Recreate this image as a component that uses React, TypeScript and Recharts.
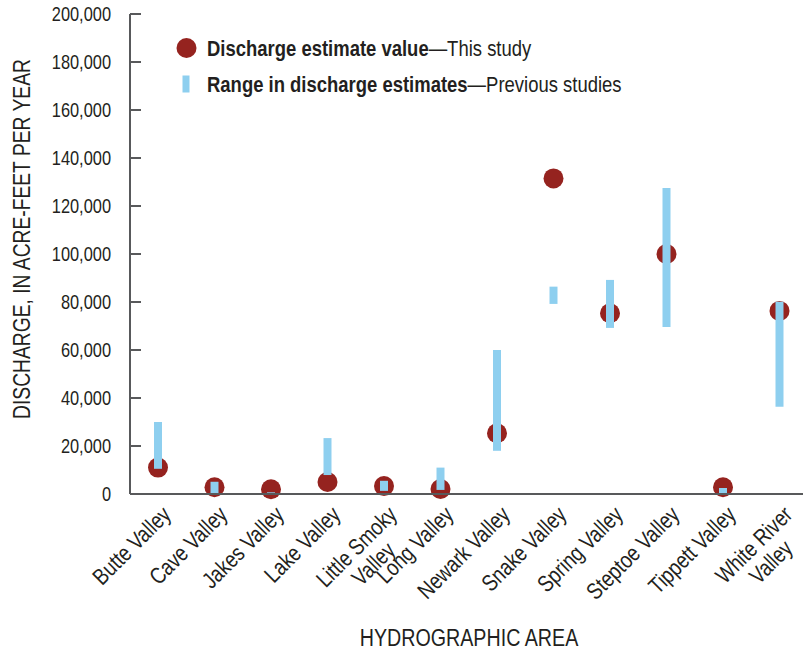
import React from "react";
import { ComposedChart, Bar, XAxis, YAxis, Legend } from "recharts";

// hydrographic areas (\n = second line of the tick label)
const areas = [
  "Butte Valley",
  "Cave Valley",
  "Jakes Valley",
  "Lake Valley",
  "Little Smoky\nValley",
  "Long Valley",
  "Newark Valley",
  "Snake Valley",
  "Spring Valley",
  "Steptoe Valley",
  "Tippett Valley",
  "White River\nValley",
];

// this study, acre-feet per year
const estimates = [11000, 2800, 2000, 5000, 3300, 2100, 25300, 131500, 75300, 100000, 2800, 76300];

// previous studies, low / high
const rangeLow = [10500, 400, 200, 7900, 1300, 1700, 18000, 79200, 69200, 69600, 200, 36400];
const rangeHigh = [30000, 5100, 700, 23300, 5500, 11000, 60000, 86400, 89200, 127500, 2500, 80100];

const yTicks = [0, 20000, 40000, 60000, 80000, 100000, 120000, 140000, 160000, 180000, 200000];
const boundaries = [1, 2, 3, 4, 5, 6, 7, 8, 9, 10, 11];

const data = areas.map((name, i) => ({
  name,
  estimate: estimates[i],
  range: [rangeLow[i], rangeHigh[i]],
}));

// no narrow font installed, so squeeze Liberation Sans sideways
const FONT = "'Liberation Sans', Arial, sans-serif";
const SX = 0.82;
const INK = "#231f20";
const AXIS = "#58595b";
const RED = "#95231f";
const BLUE = "#8ecfef";

const ctx = typeof document !== "undefined" ? document.createElement("canvas").getContext("2d") : null;
const measure = (s: string, size: number) => {
  if (!ctx) return s.length * size * 0.5;
  ctx.font = `${size}px ${FONT}`;
  return ctx.measureText(s).width;
};

const ValueTick = ({ x, y, payload }: any) => (
  <g>
    <line x1={x} x2={x + 11} y1={y} y2={y} stroke={AXIS} strokeWidth={2} />
    <text
      transform={`translate(${x - 19},${y}) scale(${SX},1)`}
      dy="0.36em"
      textAnchor="end"
      fontSize={20}
      fontFamily={FONT}
      fill={INK}
    >
      {Number(payload.value).toLocaleString("en-US")}
    </text>
  </g>
);

const AreaTick = ({ x, y, payload }: any) => {
  const lines = String(payload.value).split("\n");
  const size = 23;
  const w = lines.map((l) => measure(l, size));
  const maxW = Math.max(...w);
  return (
    <g transform={`translate(${x + 14},${y + 22})`}>
      <text transform={`rotate(-45) scale(${SX},1)`} textAnchor="end" fontSize={size} fontFamily={FONT} fill={INK}>
        {lines.map((l, i) => (
          <tspan key={i} x={-(maxW - w[i]) / 2} dy={i === 0 ? 0 : "1.05em"}>
            {l}
          </tspan>
        ))}
      </text>
    </g>
  );
};

// the estimate is drawn as a dot sitting on the top of an invisible bar
const EstimateDot = ({ x, y, width }: any) => <circle cx={x + width / 2} cy={y} r={10} fill={RED} />;

const YTitle = ({ viewBox }: any) => {
  const cx = viewBox.x - 18;
  const cy = viewBox.y + 225;
  return (
    <text
      transform={`translate(${cx},${cy}) rotate(-90) scale(${SX},1)`}
      textAnchor="middle"
      dy="0.36em"
      fontSize={23.5}
      fontFamily={FONT}
      fill={INK}
    >
      DISCHARGE, IN ACRE-FEET PER YEAR
    </text>
  );
};

const XTitle = ({ viewBox }: any) => (
  <text
    transform={`translate(${viewBox.x + viewBox.width / 2},${viewBox.y + viewBox.height - 5}) scale(${SX},1)`}
    textAnchor="middle"
    fontSize={24}
    fontFamily={FONT}
    fill={INK}
  >
    HYDROGRAPHIC AREA
  </text>
);

const legendItems = [
  { label: "Discharge estimate value", note: "\u2014This study", kind: "dot" },
  { label: "Range in discharge estimates", note: "\u2014Previous studies", kind: "bar" },
];

const LegendBox = () => (
  <svg width={700} height={100} style={{ display: "block" }}>
    {legendItems.map((it, i) => {
      const cy = 48 + i * 36;
      return (
        <g key={it.label}>
          {it.kind === "dot" ? (
            <circle cx={186.5} cy={cy} r={10} fill={RED} />
          ) : (
            <rect x={182.5} y={cy - 8.5} width={7} height={17} fill={BLUE} />
          )}
          <text transform={`translate(207,${cy + 8}) scale(0.84,1)`} fontSize={22} fontFamily={FONT} fill={INK}>
            <tspan fontWeight="bold">{it.label}</tspan>
            <tspan>{it.note}</tspan>
          </text>
        </g>
      );
    })}
  </svg>
);

export default function App() {
  return (
    <div style={{ position: "absolute", left: 0, top: 0, width: 803, height: 651, overflow: "hidden", background: "#fff" }}>
      <ComposedChart width={820} height={651} data={data} margin={{ top: 14, right: 12, bottom: 0, left: 40 }}>
        {/* inward frame ticks first so they sit on the plot edges */}
        <XAxis
          xAxisId="top"
          orientation="top"
          type="number"
          domain={[0, 12]}
          allowDataOverflow
          ticks={boundaries}
          mirror
          height={0}
          tick={false}
          tickSize={10}
          tickLine={{ stroke: AXIS, strokeWidth: 2 }}
          axisLine={{ stroke: AXIS, strokeWidth: 2 }}
        />
        <XAxis
          xAxisId="grid"
          type="number"
          domain={[0, 12]}
          allowDataOverflow
          ticks={boundaries}
          mirror
          height={0}
          tick={false}
          tickSize={11}
          tickLine={{ stroke: AXIS, strokeWidth: 2 }}
          axisLine={false}
        />
        <XAxis xAxisId="dots" dataKey="name" type="category" hide />
        <YAxis
          yAxisId="right"
          orientation="right"
          domain={[0, 200000]}
          ticks={yTicks}
          mirror
          width={0}
          tick={false}
          tickSize={10}
          tickLine={{ stroke: AXIS, strokeWidth: 2 }}
          axisLine={{ stroke: AXIS, strokeWidth: 2 }}
        />
        <XAxis
          xAxisId="cat"
          dataKey="name"
          type="category"
          interval={0}
          height={157}
          tickLine={false}
          tickSize={0}
          tickMargin={0}
          tick={<AreaTick />}
          axisLine={{ stroke: AXIS, strokeWidth: 2 }}
          label={XTitle}
        />
        <YAxis
          yAxisId="v"
          domain={[0, 200000]}
          ticks={yTicks}
          width={90}
          tickLine={false}
          tickSize={0}
          tickMargin={0}
          tick={<ValueTick />}
          axisLine={{ stroke: AXIS, strokeWidth: 2 }}
          label={YTitle}
        />
        <Legend
          layout="vertical"
          align="center"
          verticalAlign="middle"
          wrapperStyle={{ left: 0, top: 0, width: 700, height: 100 }}
          content={() => <LegendBox />}
        />
        <Bar
          xAxisId="dots"
          yAxisId="v"
          dataKey="estimate"
          barSize={8}
          fill={RED}
          shape={<EstimateDot />}
          isAnimationActive={false}
        />
        <Bar xAxisId="cat" yAxisId="v" dataKey="range" barSize={8} fill={BLUE} isAnimationActive={false} />
      </ComposedChart>
    </div>
  );
}
